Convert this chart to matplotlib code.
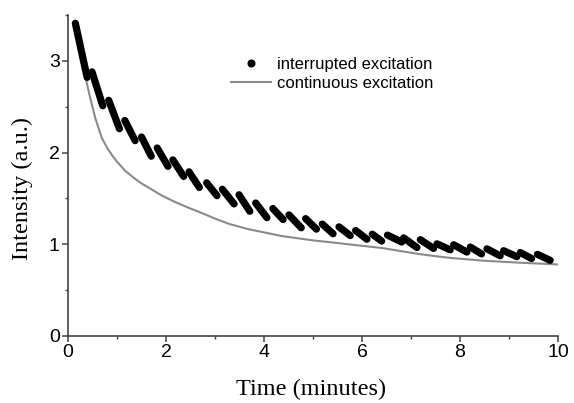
import matplotlib
matplotlib.use("Agg")
from matplotlib import pyplot as plt
from matplotlib.lines import Line2D

# continuous excitation (grey trace)
cont_t = [0.13, 0.2, 0.3, 0.37, 0.46, 0.56, 0.69, 0.8, 0.9, 1.0, 1.17, 1.33, 1.51,
          1.67, 1.92, 2.19, 2.45, 2.69, 3.0, 3.3, 3.68, 4.0, 4.36, 4.7, 5.04, 5.4,
          5.72, 6.06, 6.4, 6.8, 7.15, 7.5, 7.83, 8.17, 8.51, 8.85, 9.19, 9.6, 10.0]
cont_y = [3.38, 3.18, 2.93, 2.79, 2.58, 2.37, 2.16, 2.05, 1.97, 1.90, 1.80, 1.73, 1.66,
          1.61, 1.53, 1.46, 1.40, 1.35, 1.28, 1.22, 1.165, 1.13, 1.09, 1.065, 1.04, 1.02,
          1.00, 0.98, 0.96, 0.925, 0.895, 0.87, 0.85, 0.835, 0.82, 0.81, 0.80, 0.79, 0.78]

# interrupted excitation: each excitation window starts at (t0, y0) and ends at (t1, y1)
seg_t0 = [0.15, 0.49, 0.83, 1.16, 1.50, 1.82, 2.14, 2.47, 2.83, 3.15, 3.49, 3.83, 4.18,
          4.51, 4.85, 5.19, 5.53, 5.87, 6.21, 6.52, 6.85, 7.19, 7.53, 7.87, 8.21, 8.55,
          8.89, 9.23, 9.58]
seg_y0 = [3.41, 2.88, 2.57, 2.35, 2.17, 2.05, 1.92, 1.79, 1.67, 1.60, 1.54, 1.45, 1.39,
          1.32, 1.28, 1.22, 1.19, 1.15, 1.11, 1.10, 1.07, 1.05, 1.005, 0.995, 0.97, 0.95,
          0.93, 0.91, 0.89]
seg_t1 = [0.39, 0.71, 1.05, 1.37, 1.70, 2.04, 2.36, 2.68, 3.04, 3.39, 3.71, 4.06, 4.39,
          4.76, 5.07, 5.41, 5.76, 6.10, 6.40, 6.81, 7.12, 7.46, 7.80, 8.14, 8.44, 8.82,
          9.16, 9.46, 9.84]
seg_y1 = [2.82, 2.51, 2.26, 2.13, 1.96, 1.85, 1.74, 1.62, 1.53, 1.44, 1.36, 1.29, 1.27,
          1.18, 1.165, 1.115, 1.095, 1.055, 1.035, 1.025, 0.965, 0.955, 0.94, 0.915, 0.895,
          0.875, 0.865, 0.845, 0.825]

fig = plt.figure(figsize=(5.74, 4.03), dpi=100)
ax = fig.add_axes([68 / 574, 67 / 403, 490 / 574, 321 / 403])

ax.plot(cont_t, cont_y, color='#8a8a8a', linewidth=1.5)
for t0, y0, t1, y1 in zip(seg_t0, seg_y0, seg_t1, seg_y1):
    ax.plot([t0, t1], [y0, y1], color='black', linewidth=5.2, solid_capstyle='round')

ax.set_xlim(0, 10)
ax.set_ylim(0, 3.5)
ax.set_xticks([0, 2, 4, 6, 8, 10])
ax.set_xticks([1, 3, 5, 7, 9], minor=True)
ax.set_yticks([0, 1, 2, 3])
ax.set_yticks([0.5, 1.5, 2.5, 3.5], minor=True)

for side in ['top', 'right']:
    ax.spines[side].set_visible(False)
for side in ['left', 'bottom']:
    ax.spines[side].set_color('#444444')
    ax.spines[side].set_linewidth(1.2)
ax.tick_params(which='major', direction='out', length=4, width=1.1, color='#444444',
               labelsize=14, pad=2)
ax.tick_params(which='minor', direction='out', length=2.5, width=1.0, color='#444444')
for lab in ax.get_xticklabels() + ax.get_yticklabels():
    lab.set_family('Liberation Sans')

ax.set_xlabel('Time (minutes)', family='Liberation Serif', fontsize=17.5)
ax.set_ylabel('Intensity (a.u.)', family='Liberation Serif', fontsize=17.5)
ax.xaxis.set_label_coords(0.496, -0.135)
ax.yaxis.set_label_coords(-0.094, 0.46)
ax.yaxis.label.set_va('center')

handles = [Line2D([], [], color='black', marker='o', markersize=4.8, linestyle='none'),
           Line2D([], [], color='#8a8a8a', linewidth=1.5)]
fig.legend(handles, ['interrupted excitation', 'continuous excitation'],
           loc='upper left', bbox_to_anchor=(231 / 574, 1 - 57 / 403),
           frameon=False, borderpad=0, borderaxespad=0, handlelength=2.4,
           handletextpad=0.35, labelspacing=0.25,
           prop={'family': 'Liberation Sans', 'size': 12})

fig.savefig('out.png', dpi=100)
